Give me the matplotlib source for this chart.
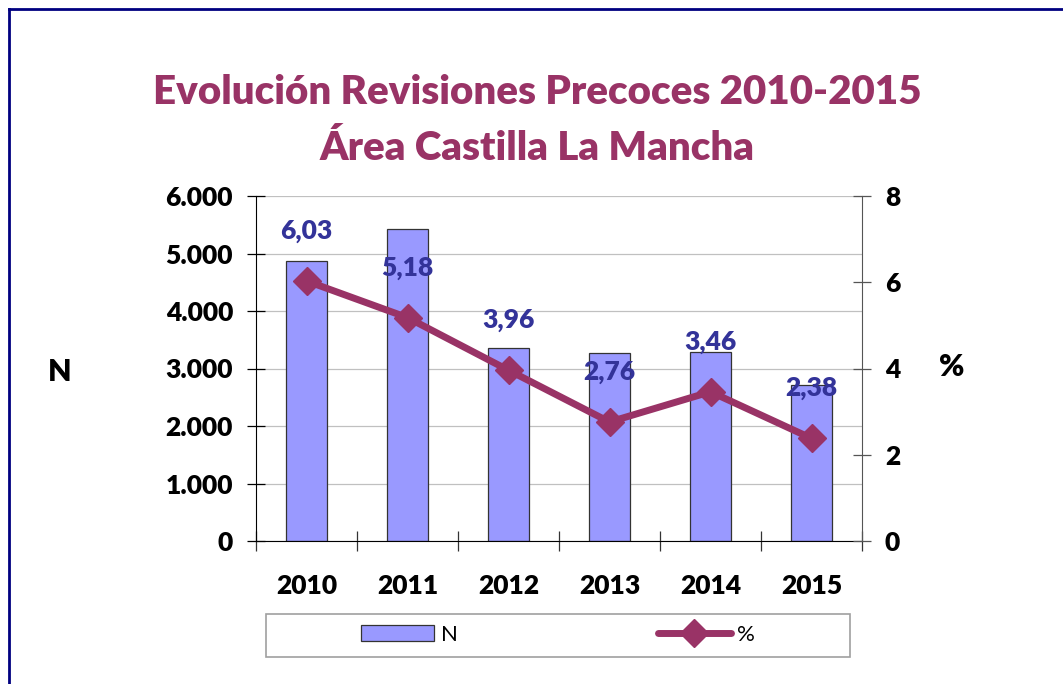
import matplotlib
matplotlib.use('Agg')
import matplotlib.pyplot as plt
from matplotlib.lines import Line2D
from matplotlib.patches import Rectangle
from matplotlib.ticker import FuncFormatter, FixedLocator

# datos
years = ['2010', '2011', '2012', '2013', '2014', '2015']
n_revisiones = [4870, 5420, 3360, 3270, 3280, 2720]
porcentaje = [6.03, 5.18, 3.96, 2.76, 3.46, 2.38]
pct_labels = ['6,03', '5,18', '3,96', '2,76', '3,46', '2,38']

title_1 = 'Evolución Revisiones Precoces 2010-2015'
title_2 = 'Área Castilla La Mancha'

W, H = 1063, 684
plum = '#993366'
bar_color = '#9999FF'
label_blue = '#333399'
font = 'Lato'
wt = 'heavy'

fig = plt.figure(figsize=(W / 100, H / 100), dpi=100)
ax = fig.add_axes([256 / W, 1 - 541 / H, 606 / W, 345 / H])
ax2 = ax.twinx()

x = list(range(len(years)))
ax.bar(x, n_revisiones, width=0.405, color=bar_color, edgecolor='#333333', linewidth=0.9, zorder=2, label='N')
ax.set_ylim(0, 6000)
ax.set_xlim(-0.5, 5.5)
ax.set_yticks(range(0, 6001, 1000))
ax.yaxis.set_major_formatter(FuncFormatter(lambda v, p: '{:,.0f}'.format(v).replace(',', '.')))
ax.grid(axis='y', color='#c0c0c0', linewidth=0.9, zorder=0)
ax.set_axisbelow(True)

ax.set_xticks(x)
ax.set_xticklabels(years)
ax.xaxis.set_minor_locator(FixedLocator([i + 0.5 for i in range(-1, 6)]))
ax.tick_params(axis='x', which='major', length=0, pad=24)
ax.tick_params(axis='x', which='minor', direction='inout', length=14, width=0.9, color='#333333')
ax.tick_params(axis='y', direction='inout', length=13, width=0.9, pad=10)

ax2.plot(x, porcentaje, color=plum, linewidth=5, marker='D', markersize=14,
         markerfacecolor=plum, markeredgecolor=plum, solid_capstyle='round', zorder=3, label='%')
ax2.set_ylim(0, 8)
ax2.set_yticks([0, 2, 4, 6, 8])
ax2.tick_params(axis='y', direction='inout', length=13, width=0.9, color='#555555', pad=10)

for xi, yi, t in zip(x, porcentaje, pct_labels):
    ax2.annotate(t, (xi, yi), xytext=(0, 36), textcoords='offset points', ha='center', va='center',
                 fontsize=19, fontweight=wt, family=font, color=label_blue, zorder=5)

for a in (ax, ax2):
    a.spines['top'].set_visible(False)
    for lab in a.get_xticklabels() + a.get_yticklabels():
        lab.set_fontfamily(font)
        lab.set_fontweight(wt)
        lab.set_fontsize(19)
ax2.spines['left'].set_visible(False)
ax2.spines['bottom'].set_visible(False)
ax2.spines['right'].set_color('#555555')
ax.spines['right'].set_visible(False)
ax.spines['left'].set_color('black')
ax.spines['bottom'].set_color('black')
ax.patch.set_visible(False)
ax2.set_zorder(ax.get_zorder() + 1)

# titulos y ejes
fig.text(537 / W, 1 - 104 / H, title_1, ha='center', va='baseline', fontsize=29,
         fontweight=wt, family=font, color=plum)
fig.text(537 / W, 1 - 160 / H, title_2, ha='center', va='baseline', fontsize=29,
         fontweight=wt, family=font, color=plum)
fig.text(60 / W, 1 - 372 / H, 'N', ha='center', va='center', fontsize=22, fontweight=wt, family=font)
fig.text(952 / W, 1 - 367 / H, '%', ha='center', va='center', fontsize=22, fontweight=wt, family=font)

# leyenda con marco aparte
fig.add_artist(Rectangle((266 / W, 1 - 657 / H), 584 / W, 43 / H, transform=fig.transFigure,
                         fill=False, edgecolor='#a0a0a0', linewidth=1.2))
h1, l1 = ax.get_legend_handles_labels()
h2, l2 = ax2.get_legend_handles_labels()
fig.legend(h1 + h2, l1 + l2, loc='center', bbox_to_anchor=(558 / W, 1 - 635 / H), ncol=2,
           frameon=False, handlelength=3.3, handleheight=0.75, handletextpad=0.3, columnspacing=9,
           prop={'family': font, 'size': 16})

# borde azul de la figura
fig.add_artist(Line2D([9 / W, 9 / W], [1 - 9 / H, 0], transform=fig.transFigure, color='#000080', linewidth=2))
fig.add_artist(Line2D([9 / W, 1], [1 - 9 / H, 1 - 9 / H], transform=fig.transFigure, color='#000080', linewidth=2))

fig.savefig('out.png', dpi=100)
